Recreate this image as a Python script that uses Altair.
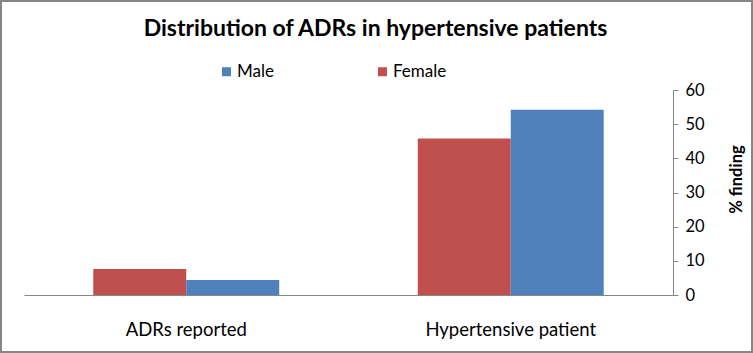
import altair as alt
import pandas as pd

categories = ["ADRs reported", "Hypertensive patient"]
female = [7.6, 45.8]
male = [4.4, 54.2]
legend_order = ["Male", "Female"]
bar_order = ["Female", "Male"]
colors = ["#4F81BD", "#C0504D"]
y_ticks = [0, 10, 20, 30, 40, 50, 60]

rows = []
for i, c in enumerate(categories):
    rows.append({"category": c, "gender": "Female", "value": female[i]})
    rows.append({"category": c, "gender": "Male", "value": male[i]})
df = pd.DataFrame(rows)

FONT = "Lato"
GRAY = "#868686"

bars = alt.Chart(df).mark_bar().encode(
    x=alt.X(
        "category:N",
        sort=categories,
        scale=alt.Scale(paddingInner=0.427, paddingOuter=0.2135),
        axis=alt.Axis(
            title=None, labelAngle=0, ticks=False, domainColor=GRAY,
            labelFontSize=18.5, labelPadding=25, labelColor="black", labelFont=FONT,
        ),
    ),
    xOffset=alt.XOffset("gender:N", sort=bar_order,
                        scale=alt.Scale(paddingInner=0, paddingOuter=0)),
    y=alt.Y(
        "value:Q",
        scale=alt.Scale(domain=[0, 60], nice=False),
        axis=alt.Axis(
            orient="right", values=y_ticks, grid=False, domainColor=GRAY,
            tickColor=GRAY, tickSize=5, labelPadding=7, labelAlign="left",
            labelFontSize=16.5, labelFont=FONT, labelColor="black",
            title="% finding", titleFont=FONT, titleFontSize=16.5, titleFontWeight="bold",
            titleColor="black", titleAngle=270, titleX=63, titleY=89,
            titleAlign="center", titleBaseline="middle",
        ),
    ),
    color=alt.Color(
        "gender:N",
        scale=alt.Scale(domain=legend_order, range=colors),
        legend=alt.Legend(
            orient="none", legendX=194, legendY=-27, direction="horizontal",
            title=None, symbolType="square", symbolSize=81, symbolStrokeWidth=0,
            labelFontSize=17, labelFont=FONT, labelColor="black", labelOffset=2,
            columnPadding=100, padding=0,
        ),
    ),
)

border = alt.Chart(pd.DataFrame({"a": [0]})).mark_rect(
    filled=False, stroke=GRAY, strokeWidth=2
).encode(
    x=alt.value(-23), x2=alt.value(728), y=alt.value(-89), y2=alt.value(262)
)

chart = alt.layer(border, bars).properties(
    width=649,
    height=205,
    padding={"left": 24, "top": 90, "right": 80, "bottom": 58},
    autosize=alt.AutoSizeParams(type="none"),
    title=alt.TitleParams(
        "Distribution of ADRs in hypertensive patients",
        font=FONT, fontSize=23, fontWeight="bold", color="black",
        anchor="middle", dx=27, offset=0, dy=59, baseline="alphabetic",
    ),
).configure_view(stroke=None)

chart.save("out.html", embed_options={"renderer": "svg", "actions": False})
